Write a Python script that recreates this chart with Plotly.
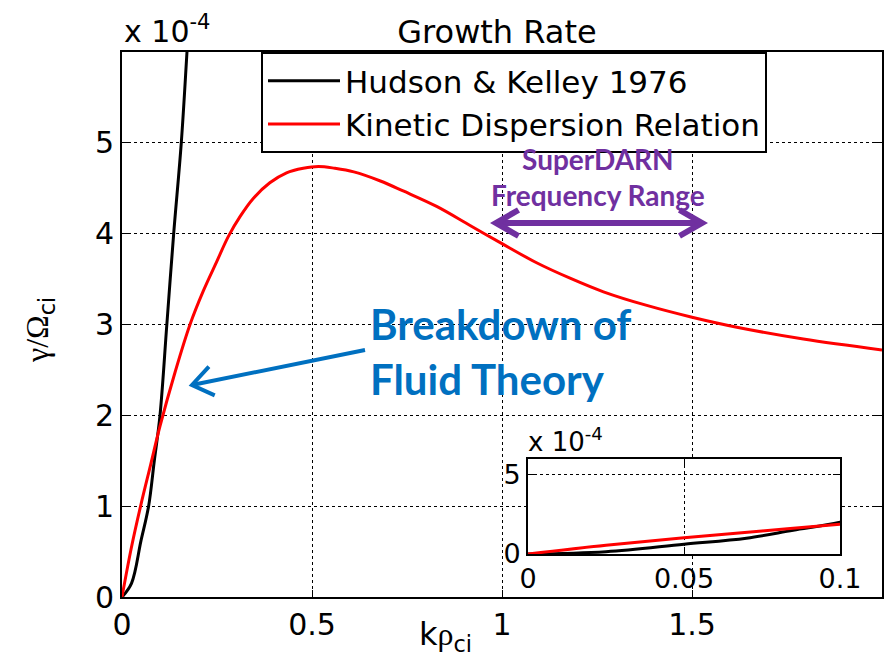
import math
import plotly.graph_objects as go

# ---------------- data (gamma / Omega_ci in units of 1e-4) ----------------
k_hk = [0, 0.025, 0.05, 0.07, 0.085, 0.1, 0.118, 0.136, 0.156, 0.171, 0.185]
g_hk = [0, 0.15, 0.62, 1.0, 1.5, 2.0, 3.0, 4.0, 5.0, 6.0, 7.0]

k_kin = [0, 0.025, 0.05, 0.075, 0.1, 0.14, 0.179, 0.214, 0.249, 0.280, 0.311,
         0.346, 0.389, 0.433, 0.477, 0.517, 0.56, 0.61, 0.68, 0.74, 0.828,
         0.916, 1.0, 1.091, 1.179, 1.267, 1.381, 1.5, 1.618, 1.793, 2.0]
g_kin = [0, 0.55, 1.02, 1.45, 1.88, 2.48, 3.0, 3.37, 3.69, 3.97, 4.19,
         4.39, 4.56, 4.67, 4.72, 4.74, 4.72, 4.68, 4.58, 4.47, 4.30,
         4.09, 3.89, 3.68, 3.51, 3.36, 3.21, 3.08, 2.97, 2.84, 2.72]

names = ["Hudson & Kelley 1976", "Kinetic Dispersion Relation"]
colors = ["black", "red"]

x_ticks = [0, 0.5, 1, 1.5, 2]
x_ticktext = ["0", "0.5", "1", "1.5", "2"]
y_ticks = [0, 1, 2, 3, 4, 5]
inset_x_ticks = [0, 0.05, 0.1]
inset_x_ticktext = ["0", "0.05", "0.1"]
inset_y_ticks = [0, 5]

# ---------------- layout geometry ----------------
# the page body has an 8px margin, so the figure starts at (8, 8) on screen
OFF = 8
W, H = 895 - 2 * OFF, 668 - 2 * OFF
AX_L, AX_R, AX_T, AX_B = 122, 882, 52, 597          # plot area in screen pixels
L, T = AX_L - OFF, AX_T - OFF
R, B = W - (AX_R - OFF), H - (AX_B - OFF)
PW, PH = AX_R - AX_L, AX_B - AX_T


def px(xp):
    return (xp - AX_L) / PW


def py(yp):
    return (AX_B - yp) / PH


SANS = "DejaVu Sans"
fig = go.Figure()

for kx, gy, nm, c in [(k_hk, g_hk, names[0], colors[0]), (k_kin, g_kin, names[1], colors[1])]:
    fig.add_trace(go.Scatter(x=kx, y=gy, mode="lines", name=nm,
                             line=dict(color=c, width=3, shape="spline", smoothing=1.0),
                             xaxis="x", yaxis="y"))
for kx, gy, c in [(k_hk, g_hk, colors[0]), (k_kin, g_kin, colors[1])]:
    fig.add_trace(go.Scatter(x=kx, y=gy, mode="lines", showlegend=False,
                             line=dict(color=c, width=3, shape="spline", smoothing=1.0),
                             xaxis="x2", yaxis="y2"))

axis_common = dict(showline=True, linecolor="black", linewidth=2, mirror="ticks",
                   ticks="inside", ticklen=7, tickcolor="black", tickwidth=1,
                   showgrid=True, gridcolor="black", gridwidth=1, griddash="3px,3px",
                   zeroline=False, automargin=False,
                   tickfont=dict(family=SANS, size=30, color="black"))
inset_font = dict(family=SANS, size=27, color="black")

fig.update_layout(
    width=W, height=H,
    margin=dict(l=L, r=R, t=T, b=B, autoexpand=False),
    paper_bgcolor="white", plot_bgcolor="white",
    xaxis=dict(domain=[0, 1], range=[0, 2], tickvals=x_ticks, ticktext=x_ticktext, **axis_common),
    yaxis=dict(domain=[0, 1], range=[0, 6], tickvals=y_ticks, **axis_common),
    xaxis2=dict(domain=[px(528), px(840)], anchor="y2", range=[0, 0.1],
                tickvals=inset_x_ticks, ticktext=inset_x_ticktext,
                **{**axis_common, "tickfont": inset_font}),
    yaxis2=dict(domain=[py(554), py(459)], anchor="x2", range=[0, 6], tickvals=inset_y_ticks,
                **{**axis_common, "tickfont": inset_font}),
    showlegend=True,
    legend=dict(x=px(261), y=1, xanchor="left", yanchor="top",
                bgcolor="white", bordercolor="black", borderwidth=2,
                font=dict(family=SANS, size=31, color="black"),
                itemwidth=72, tracegroupgap=0,
                entrywidth=520, entrywidthmode="pixels"),
    title=dict(text="Growth Rate", x=px(497), xanchor="center", xref="paper",
               y=1 - 35 / H, yanchor="bottom", yref="container", automargin=False,
               font=dict(family=SANS, size=32, color="black")),
)

ann = []
ann.append(dict(text="x 10<sup>-4</sup>", xref="paper", yref="paper", x=0, y=1,
                xanchor="left", yanchor="bottom", showarrow=False, yshift=1,
                font=dict(family=SANS, size=30, color="black")))
ann.append(dict(text="x 10<sup>-4</sup>", xref="paper", yref="paper", x=px(526), y=py(459),
                xanchor="left", yanchor="bottom", showarrow=False,
                font=dict(family=SANS, size=26, color="black")))
ann.append(dict(text="<span style='font-family:Liberation Serif'>γ/Ω</span><sub>ci</sub>",
                xref="paper", yref="paper", x=px(40), y=py(330), textangle=-90,
                xanchor="center", yanchor="middle", showarrow=False,
                font=dict(family=SANS, size=32, color="black")))
ann.append(dict(text="k<span style='font-family:Liberation Serif'>ρ</span><sub>ci</sub>",
                xref="paper", yref="paper", x=px(445), y=py(636),
                xanchor="center", yanchor="middle", showarrow=False,
                font=dict(family=SANS, size=32, color="black")))
ann.append(dict(text="Breakdown of<br>Fluid Theory", xref="paper", yref="paper",
                x=px(368), y=py(351), xanchor="left", yanchor="middle", align="left",
                showarrow=False,
                font=dict(family="Lato", size=42, color="#0070C0", weight="bold")))
ann.append(dict(text="SuperDARN<br>Frequency Range", xref="paper", yref="paper",
                x=px(598), y=py(177), xanchor="center", yanchor="middle", align="center",
                showarrow=False,
                font=dict(family="Lato", size=28, color="#7030A0", weight="bold")))
fig.update_layout(annotations=ann)


def arrow_head(tip, back, length, half_angle_deg):
    ang = math.atan2(back[1] - tip[1], back[0] - tip[0])
    pts = []
    for s in (-1, 1):
        a = ang + s * math.radians(half_angle_deg)
        pts.append((tip[0] + length * math.cos(a), tip[1] + length * math.sin(a)))
    return pts


def path_px(seq):
    return " ".join(("M" if i == 0 else "L") + f" {px(x):.5f},{py(y):.5f}"
                    for i, (x, y) in enumerate(seq))


shapes = []
# blue arrow
tail, tip = (365, 350), (192, 385)
shapes.append(dict(type="path", xref="paper", yref="paper",
                   path=path_px([tail, tip]), line=dict(color="#0070C0", width=4)))
a1, a2 = arrow_head(tip, tail, 25, 36)
shapes.append(dict(type="path", xref="paper", yref="paper",
                   path=path_px([a1, tip, a2]), line=dict(color="#0070C0", width=4)))
# purple double arrow
lt, rt = (496, 223), (702, 223)
shapes.append(dict(type="path", xref="paper", yref="paper",
                   path=path_px([lt, rt]), line=dict(color="#7030A0", width=6)))
for tp, bk in [(lt, rt), (rt, lt)]:
    b1, b2 = arrow_head(tp, bk, 26, 30)
    shapes.append(dict(type="path", xref="paper", yref="paper",
                       path=path_px([b1, tp, b2]), line=dict(color="#7030A0", width=6)))
fig.update_layout(shapes=shapes)

fig.write_html("out.html")
